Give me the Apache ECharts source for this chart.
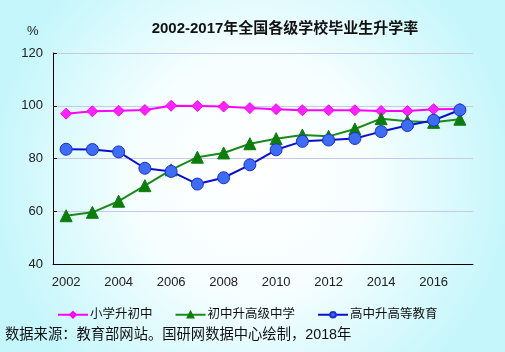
<!DOCTYPE html>
<html>
<head>
<meta charset="utf-8">
<script src="https://cdn.jsdelivr.net/npm/echarts@6/dist/echarts.min.js"></script>
<style>
  html, body { margin: 0; padding: 0; }
  #main { width: 505px; height: 352px; }
</style>
</head>
<body>
<div id="main"></div>
<script>
// 年份
var years = ['2002', '2003', '2004', '2005', '2006', '2007', '2008', '2009',
             '2010', '2011', '2012', '2013', '2014', '2015', '2016', '2017'];
// 小学升初中
var primaryToJunior = [97.0, 97.9, 98.1, 98.4, 100.0, 99.9, 99.7, 99.1,
                       98.7, 98.3, 98.3, 98.3, 98.0, 98.0, 98.7, 98.8];
// 初中升高级中学
var juniorToSenior = [58.3, 59.6, 63.8, 69.7, 75.7, 80.5, 82.1, 85.6,
                      87.5, 88.9, 88.4, 91.2, 95.1, 94.1, 93.7, 94.9];
// 高中升高等教育
var seniorToHigher = [83.5, 83.4, 82.5, 76.3, 75.1, 70.3, 72.7, 77.6,
                      83.3, 86.5, 87.0, 87.6, 90.2, 92.5, 94.5, 98.4];

var seriesNames = ['小学升初中', '初中升高级中学', '高中升高等教育'];

var chart = echarts.init(document.getElementById('main'));

var font = 'Arial, "Liberation Sans", "Noto Sans CJK SC", sans-serif';

var option = {
    backgroundColor: {
        type: 'radial',
        x: 0.5, y: 0.5, r: 0.75,
        colorStops: [
            {offset: 0, color: '#ffffff'},
            {offset: 0.45, color: '#f6feff'},
            {offset: 1, color: '#c4f6fb'}
        ]
    },
    animation: false,
    title: {
        text: '2002-2017年全国各级学校毕业生升学率',
        left: 280,
        textAlign: 'center',
        top: 16,
        textStyle: {
            fontSize: 15,
            fontWeight: 'bold',
            color: '#111',
            fontFamily: font
        }
    },
    grid: {
        left: 53,
        right: 32,
        top: 53,
        bottom: 88
    },
    legend: {
        bottom: 26,
        left: 52,
        itemGap: 22,
        itemWidth: 30,
        itemHeight: 7,
        textStyle: {
            fontSize: 12.5,
            color: '#111',
            fontFamily: font,
            padding: [0, 0, 0, -3]
        },
        data: seriesNames
    },
    graphic: [
        {
            type: 'text',
            left: 27,
            top: 25,
            style: {text: '%', fontSize: 13, fill: '#222', fontFamily: font}
        },
        {
            type: 'text',
            left: 5,
            top: 328,
            style: {
                text: '数据来源：教育部网站。国研网数据中心绘制，2018年',
                fontSize: 14.3,
                fill: '#111',
                fontFamily: font
            }
        }
    ],
    xAxis: {
        type: 'category',
        data: years,
        boundaryGap: true,
        axisLine: {lineStyle: {color: '#000', width: 1}},
        axisTick: {inside: true, length: 4, alignWithLabel: false, interval: 0,
                   lineStyle: {color: '#000'}},
        axisLabel: {
            interval: 1,
            fontSize: 13,
            color: '#222',
            fontFamily: font,
            margin: 12
        },
        splitLine: {show: false}
    },
    yAxis: {
        type: 'value',
        min: 40,
        max: 120,
        interval: 20,
        axisLine: {show: true, lineStyle: {color: '#000', width: 1}},
        axisTick: {show: true, inside: true, length: 4, lineStyle: {color: '#000'}},
        axisLabel: {
            fontSize: 13,
            color: '#222',
            fontFamily: font,
            margin: 10
        },
        splitLine: {lineStyle: {color: '#c8c8ea', width: 1}}
    },
    series: [
        {
            name: seriesNames[0],
            type: 'line',
            data: primaryToJunior,
            symbol: 'diamond',
            symbolSize: 11,
            lineStyle: {color: '#ff00ff', width: 2},
            itemStyle: {color: '#ff22ff', borderColor: '#ff00ff', borderWidth: 1}
        },
        {
            name: seriesNames[1],
            type: 'line',
            data: juniorToSenior,
            symbol: 'triangle',
            symbolSize: 12,
            lineStyle: {color: '#1a8a1a', width: 2},
            itemStyle: {color: '#0b7d0b', borderColor: '#0b7d0b', borderWidth: 1}
        },
        {
            name: seriesNames[2],
            type: 'line',
            data: seniorToHigher,
            symbol: 'circle',
            symbolSize: 12,
            lineStyle: {color: '#0a10c8', width: 2},
            itemStyle: {color: '#3d6cf5', borderColor: '#1a2fd0', borderWidth: 1}
        }
    ]
};

chart.setOption(option);
</script>
</body>
</html>
